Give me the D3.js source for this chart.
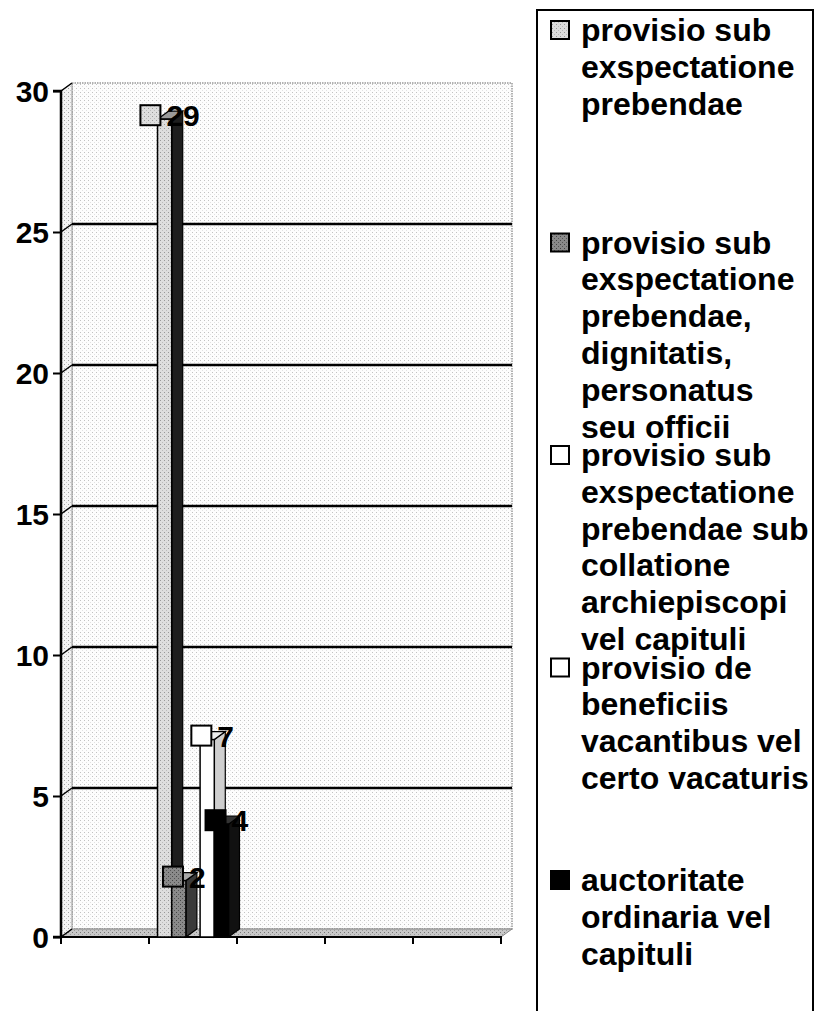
<!DOCTYPE html>
<html>
<head>
<meta charset="utf-8">
<script src="https://cdn.jsdelivr.net/npm/d3@7/dist/d3.min.js"></script>
<style>
  body { margin: 0; background: #fff; }
  svg { display: block; font-family: "Liberation Sans", Arial, sans-serif; font-weight: bold; }
</style>
</head>
<body>
<svg id="chart" width="815" height="1011"></svg>
<script>
// categories on the x axis (no labels printed in the original)
const categories = ["1", "2", "3", "4", "5"];

// one array per series, one value per category
const seriesA = [null, 29, null, null, null];
const seriesB = [null, 2, null, null, null];
const seriesC = [null, 0, null, null, null];
const seriesD = [null, 7, null, null, null];
const seriesE = [null, 4, null, null, null];

const legendLines = [
    ["provisio sub", "exspectatione", "prebendae"],
    ["provisio sub", "exspectatione", "prebendae,", "dignitatis,", "personatus", "seu officii"],
    ["provisio sub", "exspectatione", "prebendae sub", "collatione", "archiepiscopi", "vel capituli"],
    ["provisio de", "beneficiis", "vacantibus vel", "certo vacaturis"],
    ["auctoritate", "ordinaria vel", "capituli"]
];

const yTicks = [0, 5, 10, 15, 20, 25, 30];

const allSeries = [seriesA, seriesB, seriesC, seriesD, seriesE];

// fill colours for front / side / top of each series
const looks = [
    {front: "#d2d2d2", side: "#1e1e1e", top: "#9a9a9a", key: "#d6d6d6"},
    {front: "#767676", side: "#3a3a3a", top: "#a8a8a8", key: "#6e6e6e"},
    {front: "#ffffff", side: "#d0d0d0", top: "#eeeeee", key: "#ffffff"},
    {front: "#ffffff", side: "#cfcfcf", top: "#eeeeee", key: "#ffffff"},
    {front: "#000000", side: "#111111", top: "#333333", key: "#000000"}
];

const svg = d3.select("#chart");

const plotL = 61, plotR = 501, plotT = 91, plotB = 937;
const dx = 11, dy = -8;   // depth of the 3D box

const x = d3.scaleBand().domain(categories).range([plotL, plotR]);
const inner = d3.scaleBand().domain(d3.range(allSeries.length))
    .range([0, x.bandwidth()]).paddingOuter(0.6);
const y = d3.scaleLinear().domain([0, 30]).range([plotB, plotT]);

// patterns for the speckled walls
const defs = svg.append("defs");
let speck = (id, bg, dot1, dot2) => {
    let p = defs.append("pattern").attr("id", id)
        .attr("width", 4).attr("height", 4).attr("patternUnits", "userSpaceOnUse");
    p.append("rect").attr("width", 4).attr("height", 4).attr("fill", bg);
    p.append("rect").attr("x", 0).attr("y", 0).attr("width", 1).attr("height", 1).attr("fill", dot1);
    p.append("rect").attr("x", 2).attr("y", 2).attr("width", 1).attr("height", 1).attr("fill", dot2);
};
speck("wall", "#fdfdfd", "#c2c2c2", "#e2e2e2");
speck("side", "#f4f4f4", "#a0a0a0", "#c8c8c8");
speck("floor", "#c8c8c8", "#777", "#999");
speck("dotA", "#dedede", "#999", "#bbb");
speck("dotB", "#8a8a8a", "#444", "#555");

looks[0].front = "url(#dotA)";
looks[0].key = "url(#dotA)";
looks[1].front = "url(#dotB)";
looks[1].key = "url(#dotB)";

// back wall
svg.append("rect")
    .attr("x", plotL + dx).attr("y", plotT + dy)
    .attr("width", plotR - plotL).attr("height", plotB - plotT)
    .attr("fill", "url(#wall)")
    .attr("stroke", "#999").attr("stroke-width", 1.5).attr("stroke-dasharray", "1.5,1");

// left wall
svg.append("path")
    .attr("d", `M${plotL},${plotT} L${plotL + dx},${plotT + dy} L${plotL + dx},${plotB + dy} L${plotL},${plotB} Z`)
    .attr("fill", "url(#side)")
    .attr("stroke", "#999").attr("stroke-width", 1);

// floor
svg.append("path")
    .attr("d", `M${plotL},${plotB} L${plotL + dx},${plotB + dy} L${plotR + dx},${plotB + dy} L${plotR},${plotB} Z`)
    .attr("fill", "url(#floor)")
    .attr("stroke", "#888").attr("stroke-width", 1);

// gridlines on the back wall + slanted ticks on the side wall
const grid = svg.append("g");
yTicks.filter(t => t > 0 && t < 30).forEach(t => {
    grid.append("line")
        .attr("x1", plotL + dx).attr("x2", plotR + dx)
        .attr("y1", y(t) + dy).attr("y2", y(t) + dy)
        .attr("stroke", "#000").attr("stroke-width", 2.5);
});
yTicks.forEach(t => {
    grid.append("line")
        .attr("x1", plotL).attr("x2", plotL + dx)
        .attr("y1", y(t)).attr("y2", y(t) + dy)
        .attr("stroke", "#000").attr("stroke-width", 1.5);
});

// y axis
const yAxis = d3.axisLeft(y).tickValues(yTicks).tickSize(8).tickPadding(4);
const ya = svg.append("g").attr("transform", `translate(${plotL},0)`).call(yAxis);
ya.select(".domain").attr("stroke", "#000").attr("stroke-width", 2.5)
    .attr("d", `M-8,${plotT}H0V${plotB}H-8`);
ya.selectAll(".tick line").attr("stroke", "#000").attr("stroke-width", 2);
ya.selectAll(".tick text")
    .attr("fill", "#000")
    .style("font-size", "30px").style("font-weight", "bold")
    .attr("dy", "0.36em");

// x axis (no labels)
const xAxis = d3.axisBottom(x).tickSize(7).tickFormat("");
const xa = svg.append("g").attr("transform", `translate(0,${plotB})`).call(xAxis);
xa.select(".domain").attr("stroke", "#000").attr("stroke-width", 2)
    .attr("d", `M${plotL},7V0H${plotR}V7`);
xa.selectAll(".tick").remove();
categories.forEach((c, i) => {
    xa.append("line")
        .attr("x1", x(c) + x.bandwidth()).attr("x2", x(c) + x.bandwidth())
        .attr("y1", 0).attr("y2", 7)
        .attr("stroke", "#000").attr("stroke-width", 2);
});

// bars
const bars = svg.append("g");
const labels = [];
categories.forEach((c, ci) => {
    allSeries.forEach((s, si) => {
        let v = s[ci];
        if (v === null) return;
        let bw = inner.bandwidth();
        let bx = x(c) + inner(si);
        let by = y(v);
        let look = looks[si];
        labels.push({v: v, si: si, cx: bx + bw / 2 + dx / 2, cy: by + dy / 2});
        if (v <= 0) return;
        bars.append("path")
            .attr("d", `M${bx + bw},${by} L${bx + bw + dx},${by + dy} L${bx + bw + dx},${plotB + dy} L${bx + bw},${plotB} Z`)
            .attr("fill", look.side).attr("stroke", "#000").attr("stroke-width", 1.2);
        bars.append("path")
            .attr("d", `M${bx},${by} L${bx + dx},${by + dy} L${bx + bw + dx},${by + dy} L${bx + bw},${by} Z`)
            .attr("fill", look.top).attr("stroke", "#000").attr("stroke-width", 1.2);
        bars.append("rect")
            .attr("x", bx).attr("y", by)
            .attr("width", bw).attr("height", plotB - by)
            .attr("fill", look.front).attr("stroke", "#000").attr("stroke-width", 1.5);
    });
});

// data labels with legend key
const lab = svg.append("g");
labels.filter(d => d.v > 0).forEach(d => {
    let g = lab.append("g");
    let t = g.append("text")
        .text(d.v)
        .style("font-size", "30px")
        .attr("fill", "#000");
    let tw = t.node().getComputedTextLength();
    let k = 20, gap = 6;
    let total = k + gap + tw;
    let x0 = d.cx - total / 2;
    g.insert("rect", "text")
        .attr("x", x0).attr("y", d.cy - k / 2)
        .attr("width", k).attr("height", k)
        .attr("fill", looks[d.si].key).attr("stroke", "#000").attr("stroke-width", 2);
    t.attr("x", x0 + k + gap).attr("y", d.cy + 11);
});

// legend
const lg = svg.append("g");
lg.append("rect")
    .attr("x", 537).attr("y", 10)
    .attr("width", 276).attr("height", 1030)
    .attr("fill", "#fff").attr("stroke", "#000").attr("stroke-width", 2);

const itemStep = 212.5, lineStep = 36.8;
legendLines.forEach((lines, i) => {
    let baseY = 41 + i * itemStep;
    lg.append("rect")
        .attr("x", 551).attr("y", baseY - 20)
        .attr("width", 18).attr("height", 18)
        .attr("fill", looks[i].key).attr("stroke", "#000").attr("stroke-width", 2);
    let t = lg.append("text")
        .attr("x", 581).attr("y", baseY)
        .style("font-size", "32px").attr("fill", "#000");
    lines.forEach((l, j) => {
        t.append("tspan").attr("x", 581).attr("y", baseY + j * lineStep).text(l);
    });
});
</script>
</body>
</html>
